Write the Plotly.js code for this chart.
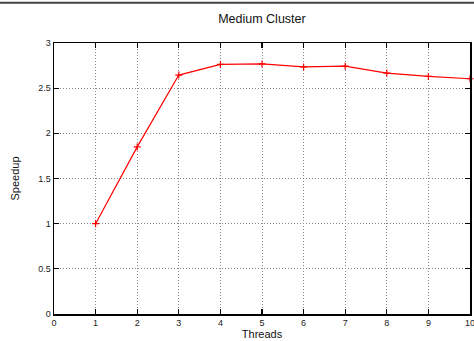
<!DOCTYPE html>
<html>
<head>
<meta charset="utf-8">
<script src="https://cdn.plot.ly/plotly-3.0.1.min.js"></script>
<style>
  html, body { margin: 0; padding: 0; background: #fff; }
  #chart { width: 474px; height: 341px; }
</style>
</head>
<body>
<div id="chart"></div>
<script>
// Speedup measured on the medium cluster for 1..10 threads
const threads = [1, 2, 3, 4, 5, 6, 7, 8, 9, 10];
const speedup = [1.0, 1.85, 2.645, 2.763, 2.768, 2.735, 2.744, 2.667, 2.63, 2.604];

const xTicks = [0, 1, 2, 3, 4, 5, 6, 7, 8, 9, 10];
const yTicks = [0, 0.5, 1, 1.5, 2, 2.5, 3];
const yTickText = ['0', '0.5', '1', '1.5', '2', '2.5', '3'];

const FONT = 'Liberation Sans, Arial, Helvetica, sans-serif';

const trace = {
  x: threads,
  y: speedup,
  type: 'scatter',
  mode: 'lines+markers',
  line: { color: '#ff0000', width: 1.2 },
  marker: { symbol: 'cross-thin', size: 5, color: '#ff0000', line: { color: '#ff0000', width: 1.2 } },
  showlegend: false,
  cliponaxis: false
};

const axisCommon = {
  showline: true,
  linecolor: '#000',
  linewidth: 1.5,
  mirror: 'allticks',
  ticks: 'inside',
  ticklen: 5,
  tickwidth: 1.2,
  tickcolor: '#000',
  showgrid: true,
  gridcolor: '#888',
  griddash: '1px,2px',
  gridwidth: 1,
  zeroline: false,
  ticklabeloverflow: 'allow',
  tickfont: { family: FONT, size: 9, color: '#222' },
  fixedrange: true
};

const layout = {
  width: 474,
  height: 341,
  margin: { l: 54, r: 4, t: 43, b: 27 },
  paper_bgcolor: '#fff',
  plot_bgcolor: '#fff',
  title: {
    text: 'Medium Cluster',
    font: { family: FONT, size: 12.5, color: '#111' },
    x: 0.5526,
    xanchor: 'center',
    y: 0.945,
    yanchor: 'middle'
  },
  xaxis: Object.assign({}, axisCommon, {
    range: [0, 10],
    tickvals: xTicks,
    ticktext: xTicks.map(String),
    title: { text: 'Threads', font: { family: FONT, size: 11, color: '#111' }, standoff: 2 }
  }),
  yaxis: Object.assign({}, axisCommon, {
    range: [0, 3],
    tickvals: yTicks,
    ticktext: yTickText,
    title: { text: 'Speedup', font: { family: FONT, size: 11, color: '#111' }, standoff: 16 }
  }),
  shapes: [{
    type: 'line', xref: 'paper', yref: 'paper',
    x0: -54 / 416, x1: 420 / 416,
    y0: 1.1485, y1: 1.1485,
    line: { color: '#444', width: 2 }
  }]
};

Plotly.newPlot('chart', [trace], layout, { displayModeBar: false, staticPlot: true });
</script>
</body>
</html>
